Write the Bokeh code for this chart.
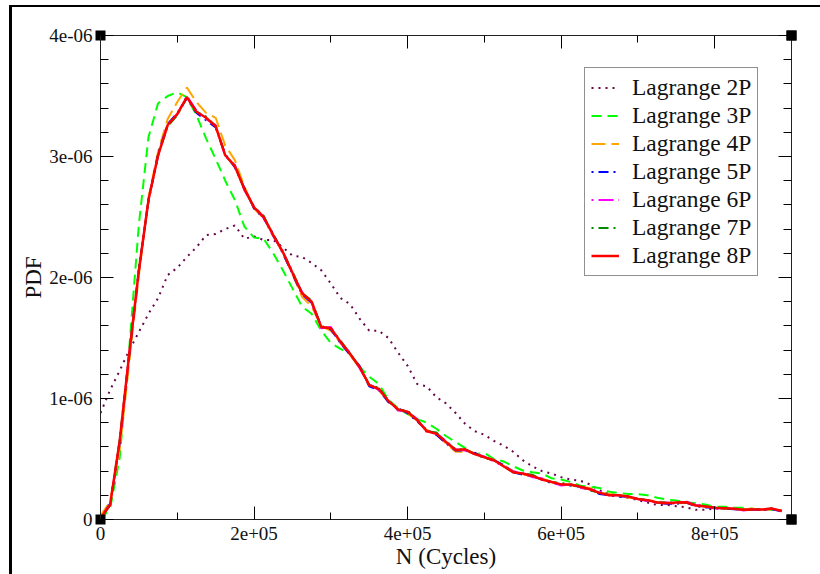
from bokeh.plotting import figure
from bokeh.models import (Range1d, LinearAxis, FixedTicker, CustomJSTickFormatter,
                          Legend, LegendItem, ColumnDataSource)
from bokeh.embed import file_html
from bokeh.resources import INLINE

# ---------------- data (PDF values in units of 1e-6) ----------------
n_cycles = [0, 12500, 25000, 37500, 50000, 62500, 75000, 87500, 100000, 112500,
            125000, 137500, 150000, 162500, 175000, 187500, 200000, 212500, 225000, 237500,
            250000, 262500, 275000, 287500, 300000, 312500, 325000, 337500, 350000, 362500,
            375000, 387500, 400000, 412500, 425000, 437500, 450000, 462500, 475000, 487500,
            500000, 512500, 525000, 537500, 550000, 562500, 575000, 587500, 600000, 612500,
            625000, 637500, 650000, 662500, 675000, 687500, 700000, 712500, 725000, 737500,
            750000, 762500, 775000, 787500, 800000, 812500, 825000, 837500, 850000, 862500,
            875000, 887500]

pdf_2p = [0.88, 1.07, 1.23, 1.40, 1.55, 1.70, 1.83, 2.02, 2.08, 2.17,
          2.25, 2.35, 2.36, 2.40, 2.43, 2.32, 2.34, 2.31, 2.31, 2.25,
          2.18, 2.17, 2.12, 2.06, 1.95, 1.83, 1.78, 1.66, 1.56, 1.56,
          1.50, 1.38, 1.27, 1.12, 1.10, 1.01, 0.96, 0.88, 0.79, 0.73,
          0.70, 0.65, 0.61, 0.56, 0.49, 0.44, 0.40, 0.38, 0.35, 0.33,
          0.32, 0.29, 0.24, 0.21, 0.19, 0.18, 0.16, 0.14, 0.12, 0.12,
          0.11, 0.10, 0.08, 0.08, 0.09, 0.09, 0.085, 0.08, 0.08, 0.08,
          0.085, 0.07]

pdf_3p = [0.0, 0.09, 0.51, 1.42, 2.44, 3.16, 3.44, 3.50, 3.53, 3.49,
          3.34, 3.15, 2.98, 2.80, 2.64, 2.42, 2.33, 2.32, 2.20, 2.06,
          1.91, 1.76, 1.70, 1.56, 1.46, 1.41, 1.37, 1.26, 1.18, 1.12,
          0.99, 0.92, 0.87, 0.83, 0.80, 0.75, 0.69, 0.64, 0.59, 0.54,
          0.55, 0.50, 0.48, 0.44, 0.405, 0.39, 0.38, 0.34, 0.33, 0.31,
          0.28, 0.27, 0.26, 0.23, 0.22, 0.21, 0.21, 0.20, 0.18, 0.165,
          0.157, 0.143, 0.135, 0.124, 0.107, 0.105, 0.10, 0.097, 0.088, 0.085,
          0.08, 0.075]

pdf_4p = [0.03, 0.15, 0.58, 1.30, 2.02, 2.66, 3.04, 3.31, 3.45, 3.57,
          3.45, 3.36, 3.32, 3.09, 2.97, 2.75, 2.57, 2.49, 2.36, 2.20,
          2.03, 1.84, 1.76, 1.60, 1.56, 1.46, 1.36, 1.25, 1.12, 1.07,
          0.97, 0.92, 0.88, 0.81, 0.74, 0.70, 0.63, 0.56, 0.56, 0.55,
          0.52, 0.49, 0.45, 0.40, 0.37, 0.36, 0.34, 0.31, 0.30, 0.28,
          0.27, 0.26, 0.22, 0.21, 0.20, 0.18, 0.17, 0.16, 0.15, 0.14,
          0.13, 0.14, 0.12, 0.11, 0.10, 0.09, 0.09, 0.085, 0.09, 0.08,
          0.085, 0.075]

pdf_5p = [0.01, 0.13, 0.63, 1.36, 2.07, 2.63, 3.02, 3.27, 3.36, 3.48,
          3.36, 3.30, 3.24, 3.02, 2.91, 2.74, 2.57, 2.49, 2.36, 2.20,
          2.03, 1.86, 1.79, 1.60, 1.57, 1.46, 1.36, 1.27, 1.10, 1.07,
          0.97, 0.92, 0.88, 0.81, 0.74, 0.70, 0.63, 0.57, 0.57, 0.55,
          0.51, 0.49, 0.45, 0.39, 0.37, 0.36, 0.33, 0.30, 0.29, 0.28,
          0.27, 0.25, 0.21, 0.20, 0.19, 0.19, 0.17, 0.16, 0.14, 0.13,
          0.13, 0.14, 0.11, 0.10, 0.10, 0.09, 0.085, 0.08, 0.08, 0.08,
          0.085, 0.065]

pdf_6p = [0.01, 0.12, 0.64, 1.38, 2.05, 2.65, 3.00, 3.27, 3.35, 3.50,
          3.38, 3.31, 3.26, 3.00, 2.93, 2.72, 2.59, 2.49, 2.34, 2.22,
          2.03, 1.88, 1.79, 1.58, 1.59, 1.46, 1.38, 1.25, 1.12, 1.07,
          0.99, 0.90, 0.89, 0.83, 0.72, 0.71, 0.65, 0.58, 0.57, 0.54,
          0.52, 0.48, 0.44, 0.40, 0.38, 0.35, 0.34, 0.31, 0.28, 0.29,
          0.26, 0.25, 0.23, 0.20, 0.20, 0.18, 0.17, 0.15, 0.14, 0.14,
          0.13, 0.15, 0.12, 0.11, 0.09, 0.095, 0.09, 0.075, 0.085, 0.08,
          0.09, 0.07]

pdf_7p = [0.01, 0.12, 0.66, 1.37, 2.06, 2.64, 3.01, 3.25, 3.34, 3.49,
          3.37, 3.33, 3.25, 3.01, 2.92, 2.73, 2.58, 2.51, 2.35, 2.21,
          2.05, 1.87, 1.81, 1.59, 1.58, 1.48, 1.37, 1.26, 1.11, 1.09,
          0.98, 0.91, 0.90, 0.82, 0.73, 0.72, 0.64, 0.58, 0.58, 0.54,
          0.51, 0.49, 0.44, 0.39, 0.38, 0.37, 0.33, 0.31, 0.30, 0.29,
          0.27, 0.24, 0.22, 0.21, 0.20, 0.19, 0.17, 0.16, 0.14, 0.14,
          0.14, 0.14, 0.12, 0.11, 0.10, 0.09, 0.09, 0.08, 0.08, 0.085,
          0.09, 0.07]

pdf_8p = [0.01, 0.12, 0.65, 1.37, 2.06, 2.64, 3.01, 3.26, 3.35, 3.49,
          3.37, 3.32, 3.25, 3.01, 2.92, 2.73, 2.58, 2.50, 2.35, 2.21,
          2.04, 1.87, 1.80, 1.59, 1.58, 1.47, 1.37, 1.26, 1.11, 1.08,
          0.98, 0.91, 0.89, 0.82, 0.73, 0.71, 0.64, 0.575, 0.58, 0.54,
          0.515, 0.49, 0.44, 0.39, 0.38, 0.36, 0.33, 0.31, 0.29, 0.29,
          0.27, 0.25, 0.22, 0.20, 0.20, 0.19, 0.17, 0.16, 0.14, 0.135,
          0.14, 0.143, 0.116, 0.107, 0.097, 0.094, 0.088, 0.08, 0.083, 0.083,
          0.09, 0.07]

series_names = ["Lagrange 2P", "Lagrange 3P", "Lagrange 4P", "Lagrange 5P",
                "Lagrange 6P", "Lagrange 7P", "Lagrange 8P"]
series_values = [pdf_2p, pdf_3p, pdf_4p, pdf_5p, pdf_6p, pdf_7p, pdf_8p]
series_colors = ["#670748", "#00ff00", "#ffa500", "#0000ff", "#ff00ff", "#008b00", "#ff0000"]
series_dashes = ["2 5", "10 6", "14 6", "2 5 10 5", "2 5 15 5", "2 5 10 5", "solid"]
series_widths = [2, 2, 2, 2, 2, 2, 2.5]

x_major = [0, 200000, 400000, 600000, 800000]
x_minor = [100000, 300000, 500000, 700000]
y_major = [0, 1e-6, 2e-6, 3e-6, 4e-6]
y_minor = [2e-7, 4e-7, 6e-7, 8e-7, 1.2e-6, 1.4e-6, 1.6e-6, 1.8e-6,
           2.2e-6, 2.4e-6, 2.6e-6, 2.8e-6, 3.2e-6, 3.4e-6, 3.6e-6, 3.8e-6]
x_max = 900000
y_max = 4e-6
PDF_UNIT = 1e-6

FONT = "Liberation Serif"

p = figure(width=820, height=574, output_backend="svg", toolbar_location=None,
           x_range=Range1d(0, x_max), y_range=Range1d(0, y_max),
           x_axis_type=None, y_axis_type=None,
           min_border_left=100, min_border_right=29, min_border_top=35, min_border_bottom=55)
p.grid.visible = False
p.outline_line_color = None
p.background_fill_color = "white"
p.border_fill_color = None
# black rules framing the original picture (left and top edges of the page)
p.styles = {"background": "linear-gradient(#000,#000) 9px 5px / 3px 569px no-repeat, "
                          "linear-gradient(#000,#000) 9px 5px / 811px 2px no-repeat, #ffffff"}

fmt_code = """
if (tick == 0) return "0";
return tick.toExponential(0).replace(/e([+-])(\\d)$/, function(m, s, d) { return "e" + s + "0" + d; });
"""


def tick_axis(ticker):
    ax = LinearAxis(ticker=ticker)
    ax.axis_line_color = "#222222"
    ax.axis_line_width = 1
    ax.major_tick_in = 13
    ax.major_tick_out = 0
    ax.minor_tick_in = 7
    ax.minor_tick_out = 0
    ax.major_tick_line_color = "black"
    ax.minor_tick_line_color = "black"
    ax.major_label_text_font_size = "0px"
    ax.major_label_text_color = None
    ax.major_label_standoff = 0
    return ax


def corner_axis(ticks):
    ax = LinearAxis(ticker=FixedTicker(ticks=ticks, minor_ticks=[]))
    ax.axis_line_color = None
    ax.major_tick_in = 5
    ax.major_tick_out = 5
    ax.major_tick_line_width = 10
    ax.major_tick_line_color = "black"
    ax.minor_tick_line_color = None
    ax.major_label_text_font_size = "0px"
    ax.major_label_text_color = None
    ax.major_label_standoff = 0
    return ax


def style_labels(ax):
    ax.formatter = CustomJSTickFormatter(code=fmt_code)
    ax.major_label_text_font = FONT
    ax.major_label_text_font_size = "19px"
    ax.major_label_text_color = "#111111"
    ax.axis_label_text_font = FONT
    ax.axis_label_text_font_size = "23px"
    ax.axis_label_text_font_style = "normal"
    ax.axis_label_text_color = "#111111"


# left axis: ticks + labels
y_axis = tick_axis(FixedTicker(ticks=y_major, minor_ticks=y_minor))
style_labels(y_axis)
y_axis.minor_tick_in = 8
y_axis.major_label_standoff = 8
y_axis.axis_label = "PDF"
y_axis.axis_label_standoff = 0
p.add_layout(y_axis, "left")

# bottom: ticks, corner squares, labels
p.add_layout(tick_axis(FixedTicker(ticks=x_major, minor_ticks=x_minor)), "below")
p.add_layout(corner_axis([0, x_max]), "below")
x_axis = LinearAxis(ticker=FixedTicker(ticks=x_major, minor_ticks=[]))
style_labels(x_axis)
x_axis.axis_line_color = None
x_axis.major_tick_line_color = None
x_axis.minor_tick_line_color = None
x_axis.major_tick_out = 0
x_axis.major_tick_in = 0
x_axis.major_label_standoff = 2
x_axis.axis_label = "N (Cycles)"
x_axis.axis_label_standoff = 1
p.add_layout(x_axis, "below")

# top and right mirrored ticks + corner squares
p.add_layout(tick_axis(FixedTicker(ticks=x_major, minor_ticks=x_minor)), "above")
p.add_layout(corner_axis([0, x_max]), "above")
r_axis = tick_axis(FixedTicker(ticks=y_major, minor_ticks=y_minor))
r_axis.minor_tick_in = 8
p.add_layout(r_axis, "right")
p.add_layout(corner_axis([0, y_max]), "right")

items = []
for name, vals, col, dash, lw in zip(series_names, series_values, series_colors,
                                      series_dashes, series_widths):
    src = ColumnDataSource(data=dict(x=n_cycles, y=[v * PDF_UNIT for v in vals]))
    r = p.line("x", "y", source=src, line_color=col, line_width=lw, line_dash=dash)
    items.append(LegendItem(label=name, renderers=[r]))

legend = Legend(items=items, location=(484, 243))
legend.label_text_font = FONT
legend.label_text_font_size = "23.5px"
legend.label_text_color = "#111111"
legend.glyph_width = 28
legend.glyph_height = 25
legend.label_height = 25
legend.label_standoff = 13
legend.spacing = 1
legend.padding = 6
legend.border_line_color = "#222222"
legend.border_line_width = 1.2
legend.background_fill_color = "white"
legend.background_fill_alpha = 1
p.add_layout(legend, "center")

open("out.html", "w").write(file_html(p, INLINE))
